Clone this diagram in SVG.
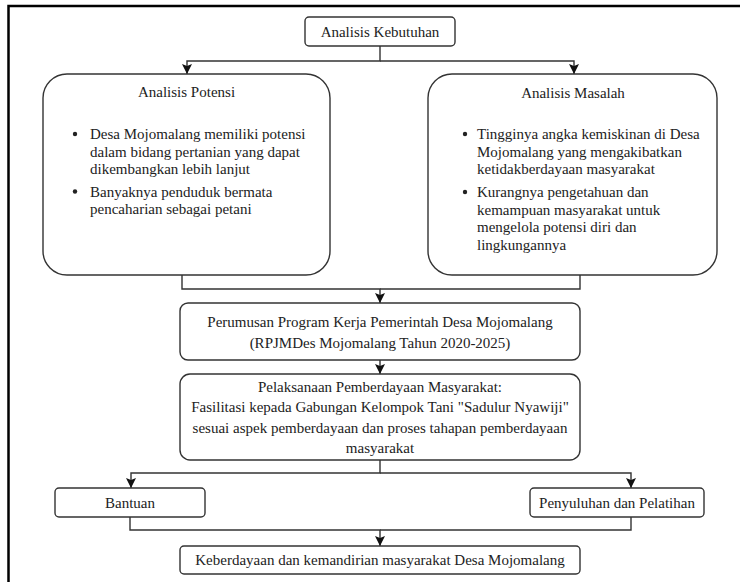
<svg xmlns="http://www.w3.org/2000/svg" width="740" height="582" viewBox="0 0 740 582">
<defs>
<style>
text{font-family:'Liberation Serif','Times New Roman',Times,'DejaVu Serif',serif;font-size:15px;fill:#222}
.c{text-anchor:middle}
.box{fill:#fff;stroke:#333;stroke-width:1.4}
.ln{fill:none;stroke:#333;stroke-width:1.4}
.bul{fill:#222}
</style>
<marker id="ah" markerUnits="userSpaceOnUse" markerWidth="10" markerHeight="12" refX="10" refY="5" orient="auto">
<path d="M0,0 L10,5 L0,10 L2,5 z" fill="#111"/>
</marker>
</defs>
<rect width="740" height="582" fill="#fff"/>
<path d="M8.5,590 V6 H745" fill="none" stroke="#000" stroke-width="2.5"/>
<g id="connectors">
<path class="ln" d="M380,46 V61 H187 V74" marker-end="url(#ah)"/>
<path class="ln" d="M380,61 H574 V74" marker-end="url(#ah)"/>
<path class="ln" d="M182,275 V289 H380 V303" marker-end="url(#ah)"/>
<path class="ln" d="M580,275 V289 H380"/>
<path class="ln" d="M380,360 V374" marker-end="url(#ah)"/>
<path class="ln" d="M380,460 V473 H131 V488" marker-end="url(#ah)"/>
<path class="ln" d="M380,473 H631 V488" marker-end="url(#ah)"/>
<path class="ln" d="M130,517 V530 H380 V546" marker-end="url(#ah)"/>
<path class="ln" d="M631,517 V530 H380"/>
</g>
<g id="analisis-kebutuhan">
<rect class="box" x="305" y="17" width="150" height="29" rx="4"/>
<text class="c" x="380" y="37" font-family="Liberation Serif, serif">Analisis Kebutuhan</text>
</g>
<g id="analisis-potensi">
<rect class="box" x="43" y="74" width="287" height="201" rx="24"/>
<text class="c" x="186.5" y="97">Analisis Potensi</text>
<circle class="bul" cx="75" cy="134" r="2.2"/>
<text x="90" y="139">Desa Mojomalang memiliki potensi</text>
<text x="90" y="156.5">dalam bidang pertanian yang dapat</text>
<text x="90" y="174">dikembangkan lebih lanjut</text>
<circle class="bul" cx="75" cy="191.5" r="2.2"/>
<text x="90" y="196.5">Banyaknya penduduk bermata</text>
<text x="90" y="214">pencaharian sebagai petani</text>
</g>
<g id="analisis-masalah">
<rect class="box" x="428" y="74" width="289" height="201" rx="24"/>
<text class="c" x="573" y="98">Analisis Masalah</text>
<circle class="bul" cx="465" cy="134" r="2.2"/>
<text x="477" y="139">Tingginya angka kemiskinan di Desa</text>
<text x="477" y="156.5">Mojomalang yang mengakibatkan</text>
<text x="477" y="174">ketidakberdayaan masyarakat</text>
<circle class="bul" cx="465" cy="192" r="2.2"/>
<text x="477" y="197">Kurangnya pengetahuan dan</text>
<text x="477" y="214.5">kemampuan masyarakat untuk</text>
<text x="477" y="232">mengelola potensi diri dan</text>
<text x="477" y="249.5">lingkungannya</text>
</g>
<g id="perumusan">
<rect class="box" x="180" y="303" width="400" height="57" rx="8"/>
<text class="c" x="380" y="327">Perumusan Program Kerja Pemerintah Desa Mojomalang</text>
<text class="c" x="380" y="348">(RPJMDes Mojomalang Tahun 2020-2025)</text>
</g>
<g id="pelaksanaan">
<rect class="box" x="180" y="374" width="400" height="86" rx="10"/>
<text class="c" x="380" y="392">Pelaksanaan Pemberdayaan Masyarakat:</text>
<text class="c" x="380" y="412">Fasilitasi kepada Gabungan Kelompok Tani "Sadulur Nyawiji"</text>
<text class="c" x="380" y="433">sesuai aspek pemberdayaan dan proses tahapan pemberdayaan</text>
<text class="c" x="380" y="453">masyarakat</text>
</g>
<g id="bantuan">
<rect class="box" x="55" y="488" width="150" height="29" rx="4"/>
<text class="c" x="130" y="508">Bantuan</text>
</g>
<g id="penyuluhan">
<rect class="box" x="530" y="488" width="174" height="29" rx="4"/>
<text class="c" x="617" y="508">Penyuluhan dan Pelatihan</text>
</g>
<g id="keberdayaan">
<rect class="box" x="180" y="546" width="400" height="28" rx="4"/>
<text class="c" x="380" y="565">Keberdayaan dan kemandirian masyarakat Desa Mojomalang</text>
</g>
</svg>
